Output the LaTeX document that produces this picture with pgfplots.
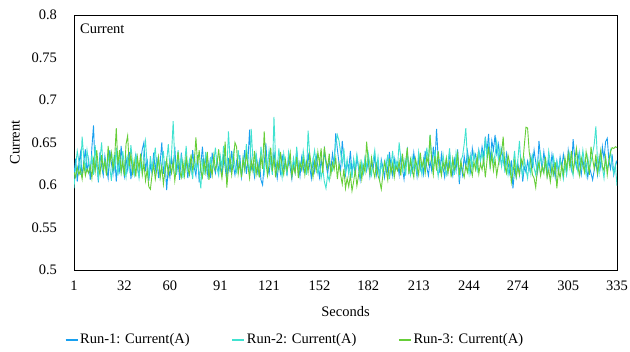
\documentclass[border=0pt]{standalone}
\usepackage{pgfplots}
\usepackage{pgfplotstable}
\pgfplotsset{compat=1.18}
\usepackage{fontspec}
\setmainfont{Liberation Serif}
\definecolor{runA}{RGB}{24,160,240}
\definecolor{runB}{RGB}{64,226,208}
\definecolor{runC}{RGB}{102,206,56}
\pgfplotstableread{
x b c g
1 0.612 0.596 0.615
2 0.631 0.622 0.609
3 0.604 0.640 0.621
4 0.625 0.628 0.612
5 0.638 0.612 0.618
6 0.609 0.657 0.607
7 0.627 0.633 0.625
8 0.642 0.618 0.611
9 0.615 0.641 0.619
10 0.630 0.625 0.614
11 0.606 0.619 0.622
12 0.644 0.636 0.608
13 0.670 0.612 0.630
14 0.618 0.647 0.616
15 0.628 0.624 0.641
16 0.603 0.608 0.620
17 0.639 0.631 0.612
18 0.622 0.650 0.635
19 0.611 0.617 0.618
20 0.634 0.629 0.628
21 0.620 0.612 0.611
22 0.608 0.638 0.646
23 0.641 0.621 0.625
24 0.626 0.605 0.638
25 0.613 0.633 0.619
26 0.635 0.619 0.632
27 0.604 0.644 0.667
28 0.629 0.611 0.624
29 0.617 0.628 0.641
30 0.646 0.615 0.615
31 0.622 0.640 0.628
32 0.610 0.623 0.611
33 0.632 0.609 0.648
34 0.618 0.632 0.658
35 0.639 0.618 0.622
36 0.607 0.647 0.636
37 0.624 0.626 0.614
38 0.613 0.613 0.629
39 0.637 0.635 0.610
40 0.620 0.621 0.633
41 0.611 0.608 0.619
42 0.629 0.627 0.637
43 0.642 0.614 0.612
44 0.650 0.639 0.626
45 0.616 0.652 0.605
46 0.631 0.623 0.618
47 0.605 0.610 0.598
48 0.624 0.634 0.595
49 0.614 0.617 0.612
50 0.638 0.629 0.624
51 0.617 0.644 0.607
52 0.633 0.616 0.619
53 0.608 0.631 0.633
54 0.626 0.609 0.609
55 0.650 0.625 0.622
56 0.613 0.640 0.601
57 0.628 0.614 0.617
58 0.594 0.628 0.630
59 0.621 0.648 0.612
60 0.609 0.621 0.625
61 0.632 0.637 0.614
62 0.618 0.675 0.628
63 0.645 0.628 0.605
64 0.612 0.612 0.621
65 0.627 0.641 0.639
66 0.606 0.619 0.616
67 0.638 0.633 0.609
68 0.621 0.608 0.627
69 0.614 0.624 0.611
70 0.630 0.646 0.633
71 0.608 0.615 0.620
72 0.626 0.630 0.612
73 0.616 0.622 0.636
74 0.641 0.607 0.618
75 0.620 0.636 0.627
76 0.611 0.618 0.656
77 0.635 0.627 0.624
78 0.603 0.613 0.641
79 0.624 0.596 0.617
80 0.645 0.631 0.609
81 0.619 0.612 0.628
82 0.633 0.639 0.615
83 0.612 0.624 0.639
84 0.627 0.608 0.606
85 0.608 0.633 0.622
86 0.638 0.617 0.611
87 0.622 0.628 0.634
88 0.614 0.644 0.618
89 0.631 0.620 0.625
90 0.617 0.611 0.642
91 0.627 0.634 0.620
92 0.611 0.621 0.608
93 0.636 0.646 0.627
94 0.620 0.627 0.651
95 0.605 0.614 0.597
96 0.632 0.663 0.619
97 0.615 0.630 0.633
98 0.640 0.618 0.612
99 0.623 0.638 0.628
100 0.612 0.622 0.650
101 0.628 0.615 0.645
102 0.617 0.641 0.613
103 0.635 0.625 0.626
104 0.609 0.611 0.609
105 0.622 0.633 0.631
106 0.641 0.619 0.618
107 0.613 0.648 0.637
108 0.629 0.627 0.622
109 0.665 0.612 0.608
110 0.618 0.666 0.629
111 0.624 0.631 0.617
112 0.610 0.616 0.640
113 0.637 0.637 0.612
114 0.615 0.622 0.625
115 0.628 0.609 0.609
116 0.606 0.645 0.634
117 0.600 0.628 0.619
118 0.625 0.614 0.663
119 0.649 0.633 0.628
120 0.620 0.620 0.611
121 0.613 0.641 0.624
122 0.631 0.626 0.644
123 0.618 0.612 0.616
124 0.639 0.680 0.632
125 0.622 0.630 0.609
126 0.608 0.618 0.627
127 0.627 0.643 0.618
128 0.614 0.622 0.639
129 0.636 0.609 0.621
130 0.619 0.637 0.612
131 0.628 0.624 0.630
132 0.611 0.613 0.617
133 0.634 0.639 0.625
134 0.620 0.628 0.638
135 0.607 0.616 0.610
136 0.626 0.632 0.622
137 0.615 0.621 0.614
138 0.641 0.645 0.633
139 0.623 0.614 0.608
140 0.610 0.627 0.626
141 0.632 0.619 0.618
142 0.617 0.640 0.631
143 0.627 0.626 0.612
144 0.612 0.612 0.627
145 0.638 0.664 0.615
146 0.621 0.635 0.636
147 0.608 0.618 0.622
148 0.629 0.629 0.609
149 0.616 0.641 0.628
150 0.634 0.624 0.617
151 0.622 0.613 0.639
152 0.609 0.627 0.625
153 0.630 0.608 0.643
154 0.618 0.619 0.614
155 0.641 0.604 0.645
156 0.625 0.596 0.629
157 0.613 0.612 0.620
158 0.628 0.605 0.637
159 0.619 0.621 0.612
160 0.637 0.617 0.626
161 0.624 0.631 0.618
162 0.661 0.648 0.632
163 0.642 0.659 0.607
164 0.626 0.652 0.625
165 0.617 0.638 0.612
166 0.652 0.625 0.601
167 0.631 0.643 0.619
168 0.612 0.616 0.596
169 0.627 0.630 0.608
170 0.619 0.612 0.598
171 0.640 0.625 0.612
172 0.614 0.608 0.593
173 0.628 0.631 0.604
174 0.611 0.619 0.618
175 0.633 0.636 0.599
176 0.620 0.622 0.611
177 0.606 0.611 0.626
178 0.625 0.627 0.607
179 0.614 0.615 0.623
180 0.631 0.632 0.615
181 0.617 0.620 0.651
182 0.629 0.637 0.628
183 0.610 0.624 0.613
184 0.626 0.612 0.632
185 0.619 0.629 0.618
186 0.635 0.641 0.609
187 0.612 0.618 0.624
188 0.624 0.633 0.611
189 0.608 0.610 0.605
190 0.630 0.626 0.595
191 0.621 0.614 0.612
192 0.609 0.628 0.627
193 0.628 0.619 0.618
194 0.615 0.636 0.606
195 0.639 0.607 0.631
196 0.622 0.623 0.614
197 0.611 0.640 0.625
198 0.631 0.615 0.609
199 0.619 0.629 0.622
200 0.626 0.621 0.617
201 0.612 0.650 0.628
202 0.634 0.632 0.611
203 0.620 0.617 0.637
204 0.607 0.629 0.619
205 0.627 0.611 0.625
206 0.641 0.637 0.644
207 0.616 0.624 0.613
208 0.629 0.612 0.630
209 0.613 0.633 0.618
210 0.638 0.619 0.609
211 0.624 0.628 0.631
212 0.610 0.614 0.622
213 0.632 0.639 0.612
214 0.618 0.625 0.638
215 0.626 0.612 0.621
216 0.613 0.631 0.629
217 0.640 0.618 0.614
218 0.621 0.644 0.633
219 0.611 0.627 0.625
220 0.628 0.659 0.659
221 0.617 0.633 0.628
222 0.645 0.618 0.612
223 0.625 0.641 0.634
224 0.666 0.624 0.617
225 0.631 0.610 0.640
226 0.614 0.627 0.622
227 0.636 0.615 0.611
228 0.620 0.636 0.627
229 0.609 0.621 0.619
230 0.629 0.612 0.632
231 0.615 0.626 0.614
232 0.638 0.643 0.626
233 0.622 0.617 0.609
234 0.611 0.630 0.631
235 0.630 0.612 0.618
236 0.617 0.638 0.624
237 0.642 0.624 0.637
238 0.601 0.609 0.612
239 0.625 0.629 0.628
240 0.612 0.634 0.616
241 0.634 0.648 0.609
242 0.621 0.667 0.623
243 0.640 0.629 0.615
244 0.627 0.613 0.632
245 0.615 0.635 0.620
246 0.643 0.621 0.611
247 0.630 0.638 0.627
248 0.636 0.626 0.618
249 0.622 0.617 0.634
250 0.641 0.640 0.613
251 0.629 0.628 0.625
252 0.645 0.639 0.618
253 0.633 0.622 0.631
254 0.657 0.656 0.609
255 0.638 0.633 0.628
256 0.660 0.647 0.645
257 0.626 0.619 0.621
258 0.652 0.641 0.636
259 0.641 0.627 0.617
260 0.659 0.636 0.630
261 0.637 0.651 0.611
262 0.648 0.630 0.624
263 0.627 0.644 0.633
264 0.642 0.622 0.638
265 0.630 0.636 0.657
266 0.618 0.618 0.622
267 0.637 0.629 0.614
268 0.626 0.612 0.635
269 0.614 0.625 0.626
270 0.629 0.610 0.603
271 0.596 0.623 0.615
272 0.618 0.640 0.628
273 0.609 0.617 0.609
274 0.626 0.629 0.621
275 0.612 0.652 0.612
276 0.630 0.621 0.631
277 0.604 0.611 0.624
278 0.621 0.630 0.647
279 0.615 0.619 0.668
280 0.628 0.608 0.667
281 0.618 0.627 0.639
282 0.634 0.613 0.626
283 0.622 0.634 0.612
284 0.641 0.620 0.608
285 0.627 0.612 0.597
286 0.615 0.629 0.619
287 0.652 0.618 0.627
288 0.631 0.637 0.611
289 0.619 0.623 0.622
290 0.639 0.615 0.614
291 0.624 0.631 0.633
292 0.611 0.617 0.609
293 0.630 0.640 0.618
294 0.617 0.626 0.604
295 0.636 0.612 0.622
296 0.622 0.633 0.612
297 0.609 0.619 0.627
298 0.628 0.628 0.596
299 0.615 0.614 0.618
300 0.633 0.630 0.608
301 0.620 0.618 0.624
302 0.636 0.607 0.612
303 0.625 0.625 0.632
304 0.613 0.613 0.619
305 0.641 0.629 0.637
306 0.627 0.638 0.621
307 0.618 0.621 0.640
308 0.654 0.611 0.616
309 0.632 0.632 0.628
310 0.621 0.626 0.643
311 0.637 0.615 0.621
312 0.624 0.638 0.611
313 0.612 0.622 0.632
314 0.630 0.641 0.624
315 0.618 0.626 0.615
316 0.625 0.612 0.639
317 0.609 0.633 0.627
318 0.621 0.619 0.612
319 0.614 0.627 0.645
320 0.606 0.637 0.631
321 0.618 0.648 0.619
322 0.627 0.669 0.636
323 0.612 0.628 0.614
324 0.633 0.614 0.627
325 0.620 0.636 0.641
326 0.645 0.621 0.622
327 0.631 0.608 0.617
328 0.651 0.631 0.633
329 0.655 0.619 0.612
330 0.629 0.627 0.628
331 0.619 0.640 0.639
332 0.636 0.622 0.644
333 0.612 0.613 0.643
334 0.622 0.624 0.645
335 0.629 0.599 0.644
}\datatable
\begin{document}
\fontsize{14.5bp}{17bp}\selectfont
\begin{tikzpicture}
\path[use as bounding box] (0,0) rectangle (630bp,352bp);
\begin{axis}[
  at={(74bp,82bp)}, anchor=south west,
  scale only axis, width=543bp, height=255bp,
  xmin=1, xmax=335, ymin=0.5, ymax=0.8,
  xtick={1,32,60,91,121,152,182,213,244,274,305,335},
  ytick={0.5,0.55,0.6,0.65,0.7,0.75,0.8},
  yticklabels={0.5,0.55,0.6,0.65,0.7,0.75,0.8},
  major tick length=0pt,
  axis line style={black, line width=0.8bp},
  /pgf/number format/assume math mode=true,
  ticklabel style={font=\fontsize{14.5bp}{17bp}\selectfont},
  yticklabel style={xshift=-12bp},
  xticklabel style={yshift=-6bp},
  every axis x label/.style={at={(axis description cs:0.5,-0.161)}, anchor=center},
  every axis y label/.style={at={(axis description cs:-0.1087,0.5)}, rotate=90, anchor=center},
  xlabel={Seconds}, ylabel={Current},
  legend style={at={(axis description cs:0.407,-0.2745)}, anchor=center, draw=none,
    legend columns=3, font=\fontsize{14.5bp}{17bp}\selectfont,
    /tikz/every even column/.append style={column sep=40bp},
    inner sep=0pt},
  legend image code/.code={\draw[#1, line width=1.2bp] (0bp,0bp) -- (12bp,0bp);},
  legend cell align=left,
  clip=true,
]
\addplot[runA, line width=0.9bp, no marks] table[x=x, y=b] {\datatable};
\addlegendentry{Run-1: Current(A)}
\addplot[runB, line width=0.9bp, no marks] table[x=x, y=c] {\datatable};
\addlegendentry{Run-2: Current(A)}
\addplot[runC, line width=0.9bp, no marks] table[x=x, y=g] {\datatable};
\addlegendentry{Run-3: Current(A)}
\node[anchor=north west, inner sep=0pt] at (axis description cs:0.011,0.965) {Current};
\end{axis}
\end{tikzpicture}
\end{document}
